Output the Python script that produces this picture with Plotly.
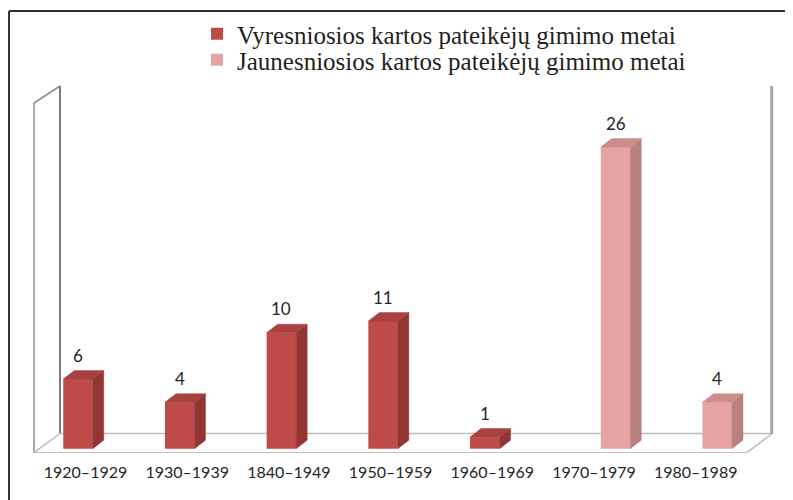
import plotly.graph_objects as go

# ---------------- data ----------------
categories = ["1920–1929", "1930–1939", "1840–1949", "1950–1959",
              "1960–1969", "1970–1979", "1980–1989"]
older_values = [6, 4, 10, 11, 1, None, None]
younger_values = [None, None, None, None, None, 26, 4]
series_names = ["Vyresniosios kartos pateikėjų gimimo metai",
                "Jaunesniosios kartos pateikėjų gimimo metai"]

# ---------------- geometry / style ----------------
W, H = 793, 500
PAGE_OFF = 8                     # browser body margin
MARGIN_B = 55
PLOT_H = H - MARGIN_B
X0_PX, X_STEP = 85.5, 101.7      # screen pixel of category 0, pixels per category
Y0_PX, Y_STEP = 448.7, 11.6      # screen pixel of value 0, pixels per unit


def xd(px):
    return (px - X0_PX) / X_STEP


def yd(py):
    return (Y0_PX - py) / Y_STEP


BAR_W = 29.5 / X_STEP
DX = 11 / X_STEP                  # 3D depth (x)
DY = 8.5 / Y_STEP                 # 3D depth (y)
OFFSETS = [-7.5 / X_STEP, 21.5 / X_STEP]   # bar centre relative to category

FRONT = ["#BF4B48", "#E5A3A2"]
SIDE = ["#923634", "#B98080"]
TOP = ["#A8413F", "#CD8D8C"]
TEXT_COL = "#262626"

fig = go.Figure()

all_series = [older_values, younger_values]
for s, vals in enumerate(all_series):
    off = OFFSETS[s]
    fig.add_trace(go.Bar(
        x=list(range(len(categories))), y=vals, width=BAR_W, offset=off - BAR_W / 2,
        marker=dict(color=FRONT[s], line=dict(width=0)),
        name=series_names[s], legend="legend" if s == 0 else "legend2",
        hoverinfo="skip"))
    sx, sy, tx, ty = [], [], [], []
    for i, v in enumerate(vals):
        if v is None:
            continue
        xl = i + off - BAR_W / 2
        xr = xl + BAR_W
        sx += [xr, xr + DX, xr + DX, xr, xr, None]
        sy += [0, DY, v + DY, v, 0, None]
        tx += [xl, xl + DX, xr + DX, xr, xl, None]
        ty += [v, v + DY, v + DY, v, v, None]
        fig.add_annotation(x=i + off, y=v, yshift=24, text=str(v), showarrow=False,
                           font=dict(family="Lato", size=17, color=TEXT_COL))
    fig.add_trace(go.Scatter(x=sx, y=sy, mode="lines", fill="toself", fillcolor=SIDE[s],
                             line=dict(width=0.5, color=SIDE[s]), showlegend=False,
                             hoverinfo="skip"))
    fig.add_trace(go.Scatter(x=tx, y=ty, mode="lines", fill="toself", fillcolor=TOP[s],
                             line=dict(width=0.5, color=TOP[s]), showlegend=False,
                             hoverinfo="skip"))

# walls & floor (decoration), in screen pixels
wall = "#8E8E8E"
floor = "#BDBDBD"
segs = [
    ((34, 103), (34, 452.7), wall, 1.5),
    ((34, 103), (60, 86), wall, 1.5),
    ((60, 86), (60, 433.5), "#7A7A7A", 2),
    ((34, 452.7), (60, 433.5), floor, 1.5),
    ((34, 452.7), (746.7, 452.7), floor, 1.5),
    ((746.7, 452.7), (771.7, 434), floor, 1.5),
    ((60, 433.5), (771.7, 433.5), floor, 1.5),
    ((771.7, 86), (771.7, 434), "#A6A6A6", 3),
]
for (x1, y1), (x2, y2), c, wdt in segs:
    fig.add_shape(type="line", xref="x", yref="y", x0=xd(x1), y0=yd(y1), x1=xd(x2), y1=yd(y2),
                  line=dict(color=c, width=wdt), layer="below")


# paper coordinates from screen pixels
def px_paper(x):
    return (x - PAGE_OFF) / W


def py_paper(y):
    return 1 - (y - PAGE_OFF) / PLOT_H


# outer frame
fig.add_shape(type="line", xref="paper", yref="paper", x0=px_paper(9), y0=py_paper(11),
              x1=1, y1=py_paper(11), line=dict(color="#333333", width=2))
fig.add_shape(type="line", xref="paper", yref="paper", x0=px_paper(9), y0=py_paper(11),
              x1=px_paper(9), y1=py_paper(H + 10), line=dict(color="#333333", width=2))

legend_style = dict(xanchor="left", yanchor="middle", bgcolor="rgba(0,0,0,0)",
                    font=dict(family="Liberation Serif", size=25, color="#231F20"),
                    itemwidth=30)

fig.update_layout(
    width=W, height=H, margin=dict(l=0, r=0, t=0, b=MARGIN_B),
    paper_bgcolor="white", plot_bgcolor="white", barmode="overlay",
    showlegend=True,
    xaxis=dict(range=[xd(PAGE_OFF), xd(PAGE_OFF + W)], tickvals=list(range(len(categories))),
               ticktext=categories, showgrid=False, zeroline=False, showline=False, ticks="",
               tickfont=dict(family="Lato", size=16, color=TEXT_COL), ticklabelstandoff=8),
    yaxis=dict(range=[yd(PAGE_OFF + PLOT_H), yd(PAGE_OFF)], visible=False),
    legend=dict(x=px_paper(197), y=py_paper(34), **legend_style),
    legend2=dict(x=px_paper(197), y=py_paper(60), **legend_style),
)

fig.write_html("out.html")
